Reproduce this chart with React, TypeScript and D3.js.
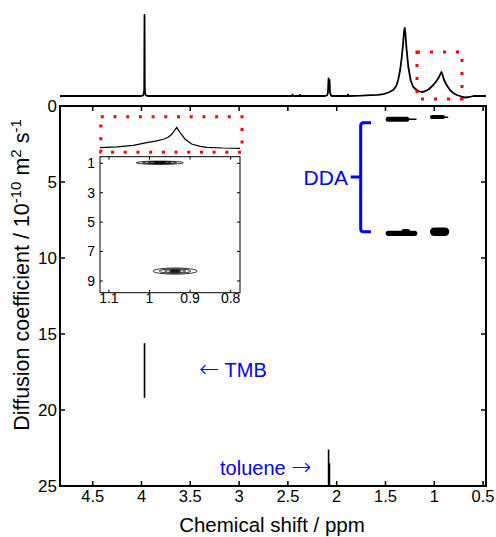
import React from "react";
import * as d3 from "d3";

const xTicks = [4.5, 4, 3.5, 3, 2.5, 2, 1.5, 1, 0.5];
const yTicks = [0, 5, 10, 15, 20, 25];
const insetXTicks = [1.1, 1, 0.9, 0.8];
const insetYTicks = [1, 3, 5, 7, 9];

// 1H spectrum above the DOSY map: [ppm, intensity]
const spectrum: [number, number][] = [
  [4.835, 0], [4.0, 0], [3.985, 0.5], [3.977, 2], [3.972, 6], [3.969, 81], [3.966, 6], [3.96, 2], [3.953, 0.5], [3.94, 0],
  [2.46, 0], [2.452, 1.5], [2.445, 0], [2.38, 0], [2.375, 1.2], [2.37, 0],
  [2.12, 0], [2.1, 0.5], [2.09, 3], [2.083, 17.7], [2.078, 13], [2.073, 16], [2.068, 3], [2.06, 1], [2.05, 0],
  [1.89, 0], [1.885, 1.5], [1.88, 0],
  [1.75, 0.3], [1.65, 0.8], [1.58, 1.2], [1.52, 1.8], [1.47, 3.5], [1.42, 6], [1.39, 10], [1.37, 16], [1.35, 26],
  [1.334, 38], [1.32, 52], [1.31, 64], [1.303, 68], [1.296, 63], [1.285, 48], [1.266, 29], [1.24, 15], [1.215, 9],
  [1.18, 6], [1.15, 4.5], [1.13, 4], [1.1, 4.5], [1.06, 6.5], [1.01, 11], [0.97, 16], [0.949, 19.5], [0.935, 22.5],
  [0.926, 24], [0.918, 22], [0.9, 16], [0.873, 11], [0.84, 6], [0.805, 3], [0.77, 1], [0.737, 0], [0.71, -1],
  [0.68, -1.5], [0.64, -1], [0.6, 0], [0.47, 0],
];

// zoomed spectrum of the 0.9 ppm region
const insetSpectrum: [number, number][] = [
  [1.122, 0.6], [1.08, 1.5], [1.04, 3], [1.007, 5.6], [0.985, 7.2], [0.966, 9], [0.955, 10.8], [0.945, 14],
  [0.933, 21], [0.925, 16], [0.912, 9], [0.896, 4.3], [0.875, 2], [0.859, 1], [0.82, 0.3], [0.777, 0],
];

// DDA cross peaks: [ppm left, ppm right, D top, D bottom]
const ddaSpots: [number, number, number, number][] = [
  [1.498, 1.256, 0.7, 1.03],
  [1.3, 1.18, 0.82, 0.92],
  [1.044, 0.89, 0.59, 0.86],
  [0.942, 0.856, 0.69, 0.79],
  [1.498, 1.174, 8.2, 8.55],
  [1.334, 1.249, 8.09, 8.36],
  [1.044, 0.846, 8.0, 8.55],
];

// vertical streaks (TMB, toluene): [ppm, D top, D bottom]
const streaks: [number, number, number][] = [
  [3.969, 15.6, 19.2],
  [2.083, 22.6, 25],
  [2.074, 23.5, 25],
];

// inset contours: [ppm, D, half width ppm, half height D]
const insetSpots: [number, number, number, number][] = [
  [0.975, 0.96, 0.058, 0.11],
  [0.937, 8.33, 0.054, 0.21],
];
const contourLevels = [1, 0.72, 0.48, 0.25];

const font = "'Liberation Sans', Arial, Helvetica, sans-serif";
const arrowFont = "'DejaVu Sans', sans-serif";
const blue = "#0000ff";

export default function App() {
  const W = 496, H = 537;
  const L = 60, R = 486, T = 106, B = 486;
  const x = d3.scaleLinear().domain([4.835, 0.47]).range([L, R]);
  const y = d3.scaleLinear().domain([0, 25]).range([T, B]);
  const specY = d3.scaleLinear().domain([0, 81]).range([96, 15]);

  const iL = 100, iR = 240, iT = 156.7, iB = 292.7;
  const ix = d3.scaleLinear().domain([1.122, 0.777]).range([iL, iR]);
  const iy = d3.scaleLinear().domain([0.55, 9.8]).range([iT, iB]);
  const ispecY = d3.scaleLinear().domain([0, 21]).range([148.3, 127.3]);

  const specLine = d3.line<[number, number]>().x(d => x(d[0])).y(d => specY(d[1]));
  const insetLine = d3.line<[number, number]>().x(d => ix(d[0])).y(d => ispecY(d[1]));

  // bracket for DDA
  const bx = x(1.754), bArm = x(1.648), bNub = x(1.856);
  const bTop = y(1.1), bBot = y(8.27), bMid = y(4.67);
  const bracket = `M${bArm},${bTop} H${bx + 3} Q${bx},${bTop} ${bx},${bTop + 3} V${bBot - 3} Q${bx},${bBot} ${bx + 3},${bBot} H${bArm} M${bx},${bMid} H${bNub}`;

  return (
    <svg width={W} height={H} style={{ position: "absolute", left: 0, top: 0, background: "#fff" }} fontFamily={font}>
      <rect width={W} height={H} fill="#fff" />
      {/* top spectrum */}
      <path d={specLine(spectrum) || ""} fill="none" stroke="#000" strokeWidth={1.8} strokeLinejoin="round" />
      <rect x={x(1.177)} y={specY(44)} width={x(0.716) - x(1.177)} height={specY(-3) - specY(44)}
        fill="none" stroke="#f00" strokeWidth={3} strokeDasharray="3 10" />

      {/* main frame */}
      <rect x={L} y={T} width={R - L} height={B - T} fill="none" stroke="#000" strokeWidth={2} />
      {xTicks.map(t => (
        <g key={"xt" + t}>
          <line x1={x(t)} x2={x(t)} y1={B} y2={B - 5} stroke="#000" strokeWidth={1.5} />
          <line x1={x(t)} x2={x(t)} y1={T} y2={T + 5} stroke="#000" strokeWidth={1.5} />
          <text x={x(t)} y={502} fontSize={16.5} textAnchor="middle">{t}</text>
        </g>
      ))}
      {yTicks.map(t => (
        <g key={"yt" + t}>
          <line x1={L} x2={L + 5} y1={y(t)} y2={y(t)} stroke="#000" strokeWidth={1.5} />
          <line x1={R} x2={R - 5} y1={y(t)} y2={y(t)} stroke="#000" strokeWidth={1.5} />
          <text x={57} y={y(t)} dy="0.35em" fontSize={17} textAnchor="end">{t}</text>
        </g>
      ))}

      {/* cross peaks */}
      {ddaSpots.map((s, i) => {
        const w = x(s[1]) - x(s[0]);
        const h = y(s[3]) - y(s[2]);
        const r = Math.min(w, h) / 2;
        return <rect key={"s" + i} x={x(s[0])} y={y(s[2])} width={w} height={h} rx={r} ry={r} fill="#000" />;
      })}
      {streaks.map((s, i) => (
        <line key={"st" + i} x1={x(s[0])} x2={x(s[0])} y1={y(s[1])} y2={y(s[2])} stroke="#000" strokeWidth={1.6} />
      ))}

      {/* annotations */}
      <path d={bracket} fill="none" stroke={blue} strokeWidth={3} />
      <text x={x(1.885)} y={y(4.67)} dy="0.36em" fontSize={21} fill={blue} textAnchor="end">DDA</text>
      <text x={x(3.408)} y={y(17.85)} fontSize={20} fill={blue}>
        <tspan fontFamily={arrowFont} fontSize={24} fontWeight={300}>←</tspan> TMB
      </text>
      <text x={x(2.26)} y={y(24.3)} fontSize={20} fill={blue} textAnchor="end">
        toluene <tspan fontFamily={arrowFont} fontSize={24} fontWeight={300}>→</tspan>
      </text>

      {/* inset */}
      <path d={insetLine(insetSpectrum) || ""} fill="none" stroke="#000" strokeWidth={1.2} />
      <rect x={ix(1.12)} y={ispecY(31.6)} width={ix(0.772) - ix(1.12)} height={ispecY(-4) - ispecY(31.6)}
        fill="none" stroke="#f00" strokeWidth={3} strokeDasharray="3 9.7" />
      <rect x={iL} y={iT} width={iR - iL} height={iB - iT} fill="#fff" stroke="#000" strokeWidth={1} />
      {insetXTicks.map(t => (
        <g key={"ixt" + t}>
          <line x1={ix(t)} x2={ix(t)} y1={iB} y2={iB - 3} stroke="#000" />
          <line x1={ix(t)} x2={ix(t)} y1={iT} y2={iT + 3} stroke="#000" />
          <text x={ix(t)} y={303} fontSize={14} textAnchor="middle">{t}</text>
        </g>
      ))}
      {insetYTicks.map(t => (
        <g key={"iyt" + t}>
          <line x1={iL} x2={iL + 3} y1={iy(t)} y2={iy(t)} stroke="#000" />
          <line x1={iR} x2={iR - 3} y1={iy(t)} y2={iy(t)} stroke="#000" />
          <text x={95} y={iy(t)} dy="0.35em" fontSize={14} textAnchor="end">{t}</text>
        </g>
      ))}
      {insetSpots.map((s, i) => (
        <g key={"is" + i}>
          {contourLevels.map((k, j) => (
            <ellipse key={j} cx={ix(s[0])} cy={iy(s[1])}
              rx={(ix(s[0] - s[2]) - ix(s[0])) * k} ry={(iy(s[1] + s[3]) - iy(s[1])) * k}
              fill={j === contourLevels.length - 1 ? "#000" : "none"} stroke="#000" strokeWidth={0.8} />
          ))}
        </g>
      ))}

      {/* axis titles */}
      <text x={272} y={532} fontSize={20.5} textAnchor="middle">Chemical shift / ppm</text>
      <text transform="translate(29,275) rotate(-90)" fontSize={21.5} textAnchor="middle">
        Diffusion coefficient / 10<tspan fontSize={15} dy={-8.5}>-10</tspan>
        <tspan dy={8.5}> m</tspan><tspan fontSize={15} dy={-8.5}>2</tspan>
        <tspan dy={8.5}> s</tspan><tspan fontSize={15} dy={-8.5}>-1</tspan>
      </text>
    </svg>
  );
}
